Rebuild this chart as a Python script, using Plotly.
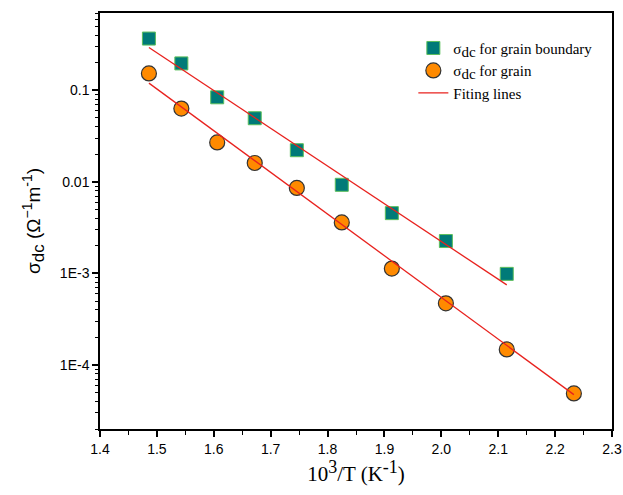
import plotly.graph_objects as go
import numpy as np

# data
x_gb = [1.486, 1.543, 1.606, 1.672, 1.746, 1.825, 1.913, 2.008, 2.115]
y_gb = [0.368, 0.197, 0.084, 0.0496, 0.0222, 0.0093, 0.00456, 0.00226, 0.00099]
x_g = [1.486, 1.543, 1.606, 1.672, 1.746, 1.825, 1.913, 2.008, 2.115, 2.233]
y_g = [0.153, 0.0633, 0.027, 0.0161, 0.0086, 0.00361, 0.00113, 0.000472, 0.000148, 4.89e-5]
fit_gb_x = [1.486, 2.115]
fit_gb_y = [0.294, 7.5e-4]
fit_g_x = [1.486, 2.233]
fit_g_y = [0.12, 4.75e-5]
y_tickvals = [1e-4, 1e-3, 1e-2, 1e-1]
y_ticktext = ["1E-4", "1E-3", "0.01", "0.1"]

minor_vals = [m * 10.0 ** e for e in range(-5, 0) for m in range(2, 10)]


def sized(tag, txt, px):
    return f'<{tag}><span style="font-size:{px}px">{txt}</span></{tag}>'


SUB_LEG = sized("sub", "dc", 15)

fig = go.Figure()
fig.add_trace(go.Scatter(x=x_gb, y=y_gb, mode="markers", name="σ" + SUB_LEG + " for grain boundary",
                         marker=dict(symbol="square", size=13, color="#007a78",
                                     line=dict(color="#5cbf5c", width=1))))
fig.add_trace(go.Scatter(x=x_g, y=y_g, mode="markers", name="σ" + SUB_LEG + " for grain",
                         marker=dict(symbol="circle", size=15, color="#ff8a00",
                                     line=dict(color="#333333", width=1.2))))
fig.add_trace(go.Scatter(x=fit_gb_x, y=fit_gb_y, mode="lines", name="Fiting lines",
                         line=dict(color="#e8221e", width=1.3)))
fig.add_trace(go.Scatter(x=fit_g_x, y=fit_g_y, mode="lines", showlegend=False,
                         line=dict(color="#e8221e", width=1.3)))

fig.update_layout(
    width=623, height=495,
    margin=dict(l=100, r=11, t=13, b=66, autoexpand=False),
    paper_bgcolor="white", plot_bgcolor="white",
    showlegend=True,
    legend=dict(x=0.612, y=0.955, xanchor="left", yanchor="top",
                font=dict(family="Liberation Serif", size=15, color="black"),
                bgcolor="rgba(0,0,0,0)", tracegroupgap=0, itemwidth=30),
    xaxis=dict(range=[1.4, 2.3], dtick=0.1, tick0=1.4, tickformat=".1f",
               automargin=False,
               ticks="outside", ticklen=6, tickwidth=1.5, tickcolor="black",
               showline=True, linecolor="black", linewidth=1.5, mirror=True,
               showgrid=False, zeroline=False,
               minor=dict(ticks="outside", dtick=0.05, ticklen=4, tickcolor="black", tickwidth=1.2),
               tickfont=dict(family="Liberation Sans", size=14, color="black"),
               title=dict(text="10" + sized("sup", "3", 18) + "/T (K" + sized("sup", "-1", 18) + ")",
                          standoff=6,
                          font=dict(family="Liberation Serif", size=21, color="black"))),
    yaxis=dict(type="log", range=[np.log10(2e-5), np.log10(0.7)],
               automargin=False,
               tickmode="array", tickvals=y_tickvals, ticktext=y_ticktext,
               ticks="outside", ticklen=6, tickwidth=1.5, tickcolor="black",
               showline=True, linecolor="black", linewidth=1.5, mirror=True,
               showgrid=False, zeroline=False,
               minor=dict(ticks="outside", tickmode="array", tickvals=minor_vals,
                          ticklen=3, tickcolor="black", tickwidth=1.2),
               tickfont=dict(family="Liberation Sans", size=14, color="black"),
               title=dict(text="σ" + sized("sub", "dc", 17) + " (Ω" + sized("sup", "−1", 14)
                          + "m" + sized("sup", "-1", 14) + ")", standoff=14,
                          font=dict(family="Liberation Sans", size=19, color="black"))),
)

fig.write_html("out.html")
